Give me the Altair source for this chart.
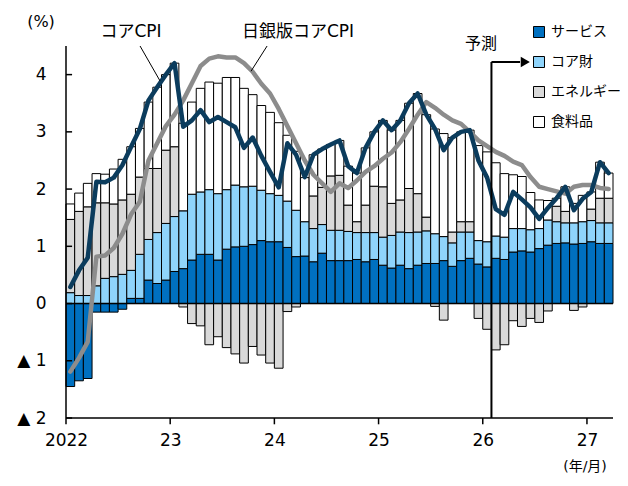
import altair as alt
import pandas as pd

# ---------------- data ----------------
categories = ["サービス", "コア財", "エネルギー", "食料品"]
colors = ["#0070C0", "#8FD4FB", "#D9D9D9", "#FFFFFF"]

services = [-1.45, -1.35, -1.31, -0.15, -0.15, -0.15, -0.10, 0.09, 0.09, 0.41,
            0.35, 0.41, 0.56, 0.61, 0.76, 0.86, 0.86, 0.76, 0.95, 0.99,
            1.00, 1.03, 1.10, 1.08, 1.08, 0.98, 0.82, 0.83, 0.73, 0.88,
            0.75, 0.75, 0.75, 0.77, 0.73, 0.77, 0.67, 0.62, 0.67, 0.61,
            0.67, 0.70, 0.70, 0.75, 0.65, 0.75, 0.79, 0.69, 0.64, 0.79,
            0.77, 0.90, 0.92, 0.90, 0.96, 1.02, 1.05, 1.06, 1.04, 1.05,
            1.08, 1.05, 1.05]
core_goods = [0.19, 0.14, 0.14, 0.31, 0.44, 0.47, 0.51, 0.49, 0.77, 0.71,
              0.89, 0.99, 0.96, 1.01, 1.15, 1.09, 1.13, 1.16, 1.04, 1.08,
              1.04, 1.02, 0.88, 0.84, 0.81, 0.81, 0.81, 0.60, 0.58, 0.50,
              0.53, 0.53, 0.51, 0.47, 0.51, 0.47, 0.49, 0.57, 0.58, 0.63,
              0.58, 0.57, 0.52, 0.42, 0.41, 0.50, 0.46, 0.41, 0.44, 0.39,
              0.39, 0.41, 0.39, 0.39, 0.35, 0.44, 0.38, 0.35, 0.37, 0.38,
              0.37, 0.36, 0.36]
energy = [1.28, 1.47, 1.55, 1.45, 1.32, 1.27, 1.30, 1.33, 1.35, 1.24,
          1.12, 1.28, 1.22, -0.06, -0.35, -0.39, -0.72, -0.58, -0.77, -0.88,
          -1.04, -0.75, -0.90, -1.04, -1.13, -0.14, -0.06, 0.0, 0.57, 0.65,
          0.95, 0.96, 0.46, 0.19, 0.48, 0.81, 0.88, 0.56, 0.56, 0.77,
          0.67, 0.24, -0.05, -0.29, 0.19, 0.18, 0.18, -0.26, -0.45, -0.81,
          -0.72, -0.30, -0.40, -0.26, -0.33, -0.13, 0.27, 0.20, -0.12, -0.06,
          0.20, 0.43, 0.43]
food = [0.27, 0.32, 0.41, 0.51, 0.50, 0.61, 0.71, 0.83, 0.85, 1.16,
        1.42, 1.32, 1.46, 1.53, 1.61, 1.81, 1.88, 1.93, 1.96, 1.88,
        1.72, 1.60, 1.48, 1.42, 1.27, 1.15, 1.03, 0.77, 0.72, 0.67,
        0.55, 0.61, 0.68, 0.85, 1.00, 0.95, 1.16, 1.28, 1.39, 1.49,
        1.75, 1.79, 1.83, 1.80, 1.65, 1.57, 1.60, 1.66, 1.57, 1.28,
        1.11, 0.94, 0.91, 0.65, 0.50, 0.34, 0.14, 0.43, 0.34, 0.46,
        0.30, 0.63, 0.44]
core_cpi = [0.29, 0.58, 0.80, 2.13, 2.12, 2.20, 2.42, 2.74, 3.05, 3.55,
            3.78, 4.00, 4.20, 3.09, 3.20, 3.38, 3.17, 3.26, 3.17, 3.08,
            2.72, 2.90, 2.58, 2.30, 2.03, 2.80, 2.60, 2.21, 2.60, 2.70,
            2.78, 2.85, 2.40, 2.28, 2.72, 3.00, 3.20, 3.03, 3.20, 3.50,
            3.67, 3.30, 3.05, 2.68, 2.90, 3.00, 3.03, 2.50, 2.20, 1.65,
            1.55, 1.95, 1.82, 1.68, 1.48, 1.67, 1.84, 2.04, 1.63, 1.83,
            1.95, 2.47, 2.28]
boj_core = [-1.19, -0.95, -0.67, 0.82, 0.84, 0.97, 1.22, 1.56, 1.78, 2.50,
            2.80, 3.10, 3.30, 3.55, 3.85, 4.15, 4.28, 4.32, 4.30, 4.30,
            4.20, 4.05, 3.84, 3.67, 3.40, 3.10, 2.80, 2.50, 2.25, 2.10,
            1.95, 2.10, 2.02, 2.15, 2.30, 2.40, 2.53, 2.64, 2.82, 3.05,
            3.30, 3.52, 3.42, 3.30, 3.20, 3.14, 3.00, 2.85, 2.75, 2.65,
            2.58, 2.48, 2.42, 2.21, 2.04, 2.00, 1.96, 1.92, 2.04, 2.07,
            2.07, 2.02, 2.00]

year_ticks = [0, 12, 24, 36, 48, 60]
year_labels = ["2022", "23", "24", "25", "26", "27"]
y_ticks = [-2, -1, 0, 1, 2, 3, 4]
forecast_start = 49

# ---------------- tables (stacked: positives up, negatives down) ----------------
series = [services, core_goods, energy, food]
rows = []
for i in range(len(services)):
    pos, neg = 0.0, 0.0
    for k, cat in enumerate(categories):
        v = series[k][i]
        if v == 0:
            continue
        if v > 0:
            y0, y1 = pos, pos + v
            pos = y1
        else:
            y0, y1 = neg, neg + v
            neg = y1
        rows.append({"m0": i, "m1": i + 1, "cat": cat, "ord": k, "y0": y0, "y1": y1})
bars = pd.DataFrame(rows)

lines = pd.DataFrame({
    "xm": [i + 0.5 for i in range(len(core_cpi))],
    "cpi": core_cpi,
    "boj": boj_core,
})

FONT = "DejaVu Sans, Noto Sans CJK JP"
X_MAX = 63
Y_MIN, Y_MAX = -2, 4.5
xs = alt.Scale(domain=[0, X_MAX], nice=False, zero=False)
ys = alt.Scale(domain=[Y_MIN, Y_MAX], nice=False, zero=False)

x_label_expr = " : ".join(
    f"datum.value == {v} ? '{l}'" for v, l in zip(year_ticks, year_labels)
) + " : ''"

XA = alt.Axis(
    values=year_ticks, labelExpr=x_label_expr, title=None, grid=False,
    domain=False, ticks=False, labelFlush=False, labelPadding=14,
    labelFont=FONT, labelFontSize=17, labelColor="black", labelAngle=0)
YA = alt.Axis(
    values=y_ticks, title=None, grid=False, ticks=False, domain=False,
    labelExpr="datum.value < 0 ? '▲ ' + (-datum.value) : '' + datum.value",
    labelPadding=20, labelFlush=False,
    labelFont=FONT, labelFontSize=17, labelColor="black")


def X(f):
    return alt.X(f, scale=xs, axis=XA, title=None)


def Y(f):
    return alt.Y(f, scale=ys, axis=YA, title=None)


bar_layer = alt.Chart(bars).mark_rect(stroke="black", strokeWidth=1, clip=False).encode(
    x=X("m0:Q"), x2="m1:Q",
    y=Y("y0:Q"), y2="y1:Q",
    color=alt.Color("cat:N", scale=alt.Scale(domain=categories, range=colors),
                    legend=alt.Legend(
                        title=None, orient="none", legendX=466, legendY=-21,
                        direction="vertical", symbolType="square", symbolSize=121,
                        symbolStrokeColor="black", symbolStrokeWidth=1,
                        labelFont="Noto Sans CJK JP", labelFontSize=14,
                        labelColor="black", rowPadding=14, labelOffset=5,
                        labelLimit=200, padding=0)),
)

zero_rule = alt.Chart(pd.DataFrame({"y": [0]})).mark_rule(
    color="black", strokeWidth=1.5, clip=False).encode(y=Y("y:Q"))

# axis lines and tick marks
y_axis_line = alt.Chart(pd.DataFrame({"x": [0], "y": [Y_MIN], "y2": [Y_MAX]})).mark_rule(
    color="black", strokeWidth=1.5, clip=False).encode(x=X("x:Q"), y=Y("y:Q"), y2="y2:Q")
x_axis_line = alt.Chart(pd.DataFrame({"x": [0], "x2": [X_MAX], "y": [Y_MIN]})).mark_rule(
    color="black", strokeWidth=1.5, clip=False).encode(x=X("x:Q"), x2="x2:Q", y=Y("y:Q"))

ytick_df = pd.DataFrame({"v": y_ticks, "a": [0] * len(y_ticks), "b": [0.7] * len(y_ticks)})
ytick_layer = alt.Chart(ytick_df).mark_rule(color="black", strokeWidth=1.5, clip=False).encode(
    x=X("a:Q"), x2="b:Q", y=Y("v:Q"))

xtick_df = pd.DataFrame({"t": year_ticks, "a": [Y_MIN] * len(year_ticks),
                         "b": [Y_MIN - 0.11] * len(year_ticks)})
xtick_layer = alt.Chart(xtick_df).mark_rule(color="black", strokeWidth=1.5, clip=False).encode(
    x=X("t:Q"), y=Y("a:Q"), y2="b:Q")

boj_line = alt.Chart(lines).mark_line(
    color="#8C8C8C", strokeWidth=4.5, strokeJoin="round", strokeCap="round").encode(
    x=X("xm:Q"), y=Y("boj:Q"))
cpi_line = alt.Chart(lines).mark_line(
    color="#0B3C5D", strokeWidth=4.5, strokeJoin="round", strokeCap="round").encode(
    x=X("xm:Q"), y=Y("cpi:Q"))

leader_df = pd.DataFrame({
    "x": [8.53, 23.16], "y": [4.5, 4.5], "x2": [10.83, 21.31], "y2": [3.89, 4.06]})
leaders = alt.Chart(leader_df).mark_rule(color="black", strokeWidth=1, clip=False).encode(
    x=X("x:Q"), x2="x2:Q", y=Y("y:Q"), y2="y2:Q")

fc_v = alt.Chart(pd.DataFrame({"x": [forecast_start], "y": [Y_MIN], "y2": [4.22]})).mark_rule(
    color="black", strokeWidth=2, clip=False).encode(x=X("x:Q"), y=Y("y:Q"), y2="y2:Q")
fc_h = alt.Chart(pd.DataFrame({"x": [forecast_start], "x2": [52.3], "y": [4.22]})).mark_rule(
    color="black", strokeWidth=2).encode(x=X("x:Q"), x2="x2:Q", y=Y("y:Q"))
fc_head = alt.Chart(pd.DataFrame({"x": [52.9], "y": [4.22]})).mark_point(
    shape="triangle-right", filled=True, size=110, color="black", opacity=1).encode(
    x=X("x:Q"), y=Y("y:Q"))


def label(text, px, py, size=17, align="center"):
    return alt.Chart(pd.DataFrame({"t": [text]})).mark_text(
        font=FONT, fontSize=size, color="black", align=align, baseline="middle").encode(
        x=alt.value(px), y=alt.value(py), text="t:N")


texts = [
    label("(%)", -25, -24, 16),
    label("コアCPI", 65, -14, 17),
    label("日銀版コアCPI", 232, -14, 17),
    label("予測", 415, -2, 16),
    label("(年/月)", 519, 421, 14),
]

chart = alt.layer(
    bar_layer, zero_rule, y_axis_line, x_axis_line, ytick_layer, xtick_layer,
    boj_line, cpi_line, leaders, fc_v, fc_h, fc_head, *texts
).properties(
    width=547, height=372,
    autosize=alt.AutoSizeParams(type="none"),
    padding={"left": 58, "top": 38, "right": 7, "bottom": 60},
).configure_view(stroke=None)

chart.save("out.html", embed_options={"renderer": "svg", "actions": False})
